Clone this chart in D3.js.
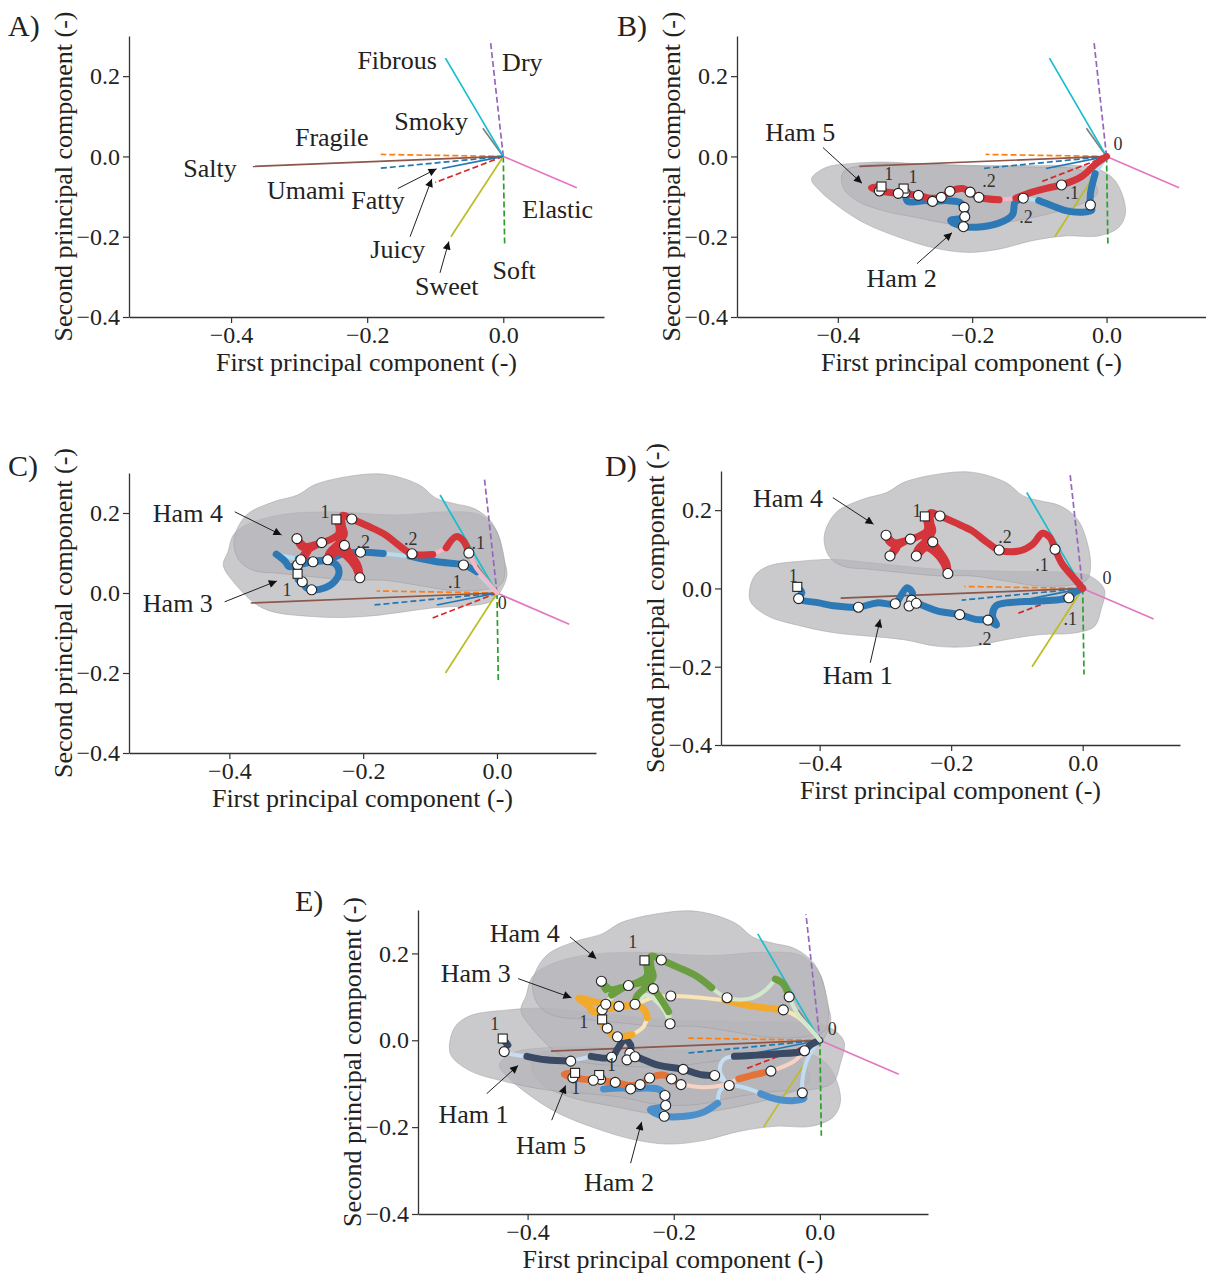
<!DOCTYPE html>
<html>
<head>
<meta charset="utf-8">
<script src="https://cdn.jsdelivr.net/npm/d3@7"></script>
<style>
  body { margin: 0; background: #fff; }
  svg { font-family: "Liberation Serif", "Times New Roman", serif; }
</style>
</head>
<body>
<svg id="fig" width="1206" height="1278"></svg>
<script>
// ---------- data ----------
const xTicks = [-0.4, -0.2, 0.0];
const yTicks = [-0.4, -0.2, 0.0, 0.2];

// loadings of the sensory attributes (PC1, PC2)
const attrNames = ["Umami", "Fragile", "Soft", "Juicy", "Dry", "Salty", "Elastic", "Smoky", "Sweet", "Fibrous", "Fatty"];
const attrPC1 = [-0.184, -0.180, 0.002, -0.100, -0.019, -0.368, 0.108, -0.030, -0.077, -0.085, -0.090];
const attrPC2 = [-0.030, 0.005, -0.220, -0.065, 0.290, -0.025, -0.078, 0.070, -0.200, 0.245, -0.030];

const hamNames = ["Ham 1", "Ham 2", "Ham 3", "Ham 4", "Ham 5"];

// trajectories (PC1, PC2), first point = start (square), last = origin
const ham1Path = [[-0.434,0.004],[-0.427,-0.011],[-0.432,-0.026],[-0.401,-0.037],[-0.375,-0.045],[-0.341,-0.048],
  [-0.313,-0.037],[-0.285,-0.039],[-0.277,-0.020],[-0.267,0.002],[-0.259,-0.011],[-0.260,-0.030],[-0.264,-0.045],
  [-0.253,-0.038],[-0.241,-0.045],[-0.220,-0.058],[-0.187,-0.067],[-0.163,-0.079],[-0.144,-0.081],[-0.131,-0.093],
  [-0.137,-0.071],[-0.132,-0.045],[-0.117,-0.037],[-0.065,-0.032],[-0.021,-0.024],[-0.013,-0.011],[0,0]];
const ham1Dots = [2, 5, 7, 11, 12, 13, 16, 18, 24];

const ham2Path = [[-0.302,-0.080],[-0.300,-0.090],[-0.296,-0.112],[-0.269,-0.110],[-0.259,-0.112],[-0.239,-0.110],
  [-0.219,-0.114],[-0.212,-0.127],[-0.211,-0.150],[-0.232,-0.160],[-0.213,-0.175],[-0.185,-0.175],[-0.160,-0.166],
  [-0.140,-0.145],[-0.136,-0.114],[-0.124,-0.104],[-0.101,-0.110],[-0.081,-0.123],[-0.061,-0.135],[-0.037,-0.139],
  [-0.022,-0.134],[-0.024,-0.121],[-0.024,-0.093],[-0.017,-0.043],[0,0]];
const ham2Dots = [1, 4, 7, 8, 10, 15, 21];

const ham3Path = [[-0.298,0.048],[-0.297,0.033],[-0.291,0.028],[-0.285,0.013],[-0.277,0.008],[-0.257,0.013],
  [-0.242,0.030],[-0.236,0.052],[-0.241,0.072],[-0.255,0.080],[-0.275,0.078],[-0.298,0.070],[-0.311,0.066],
  [-0.316,0.078],[-0.330,0.097],[-0.312,0.090],[-0.297,0.085],[-0.275,0.080],[-0.250,0.085],[-0.230,0.098],
  [-0.204,0.102],[-0.170,0.099],[-0.130,0.092],[-0.090,0.078],[-0.050,0.070],[-0.030,0.053],[0,0]];
const ham3Dots = [2, 4, 10, 11, 20, 24];

const ham4Path = [[-0.240,0.184],[-0.236,0.164],[-0.237,0.147],[-0.251,0.132],[-0.272,0.121],[-0.287,0.117],
  [-0.299,0.136],[-0.293,0.117],[-0.282,0.107],[-0.293,0.083],[-0.285,0.104],[-0.262,0.126],[-0.236,0.134],
  [-0.228,0.119],[-0.218,0.096],[-0.207,0.066],[-0.205,0.038],[-0.212,0.066],[-0.225,0.092],[-0.238,0.104],
  [-0.253,0.083],[-0.251,0.100],[-0.236,0.126],[-0.228,0.147],[-0.231,0.168],[-0.231,0.194],[-0.217,0.185],
  [-0.194,0.168],[-0.168,0.147],[-0.148,0.121],[-0.127,0.098],[-0.096,0.096],[-0.076,0.113],[-0.061,0.141],
  [-0.050,0.130],[-0.042,0.100],[-0.031,0.062],[-0.016,0.032],[0,0]];
const ham4Dots = [6, 9, 11, 13, 16, 20, 26, 30, 35];

const ham5Path = [[-0.335,-0.075],[-0.350,-0.078],[-0.338,-0.086],[-0.310,-0.092],[-0.280,-0.097],[-0.262,-0.104],
  [-0.246,-0.102],[-0.233,-0.087],[-0.214,-0.080],[-0.203,-0.089],[-0.190,-0.102],[-0.160,-0.108],[-0.135,-0.104],
  [-0.111,-0.089],[-0.086,-0.078],[-0.067,-0.071],[-0.037,-0.050],[-0.017,-0.020],[0,0]];
const ham5Dots = [2, 3, 4, 6, 7, 9, 10, 15];

// spread of each ham (outline of the shaded cloud)
const ham1Cloud = [[-0.507,-0.011],[-0.499,0.032],[-0.478,0.057],[-0.426,0.070],[-0.375,0.074],[-0.324,0.066],
  [-0.220,0.049],[-0.117,0.044],[-0.013,0.040],[0.012,0.031],[0.033,-0.003],[0.028,-0.054],[0.018,-0.097],
  [-0.013,-0.114],[-0.065,-0.118],[-0.117,-0.131],[-0.169,-0.148],[-0.220,-0.148],[-0.272,-0.131],[-0.324,-0.122],
  [-0.375,-0.114],[-0.426,-0.097],[-0.478,-0.071],[-0.504,-0.037]];
const ham2Cloud = [[-0.439,-0.056],[-0.417,-0.027],[-0.382,-0.018],[-0.333,-0.014],[-0.283,-0.018],[-0.185,-0.023],
  [-0.111,-0.023],[-0.022,-0.027],[0.008,-0.052],[0.023,-0.093],[0.028,-0.143],[0.018,-0.177],[-0.012,-0.198],
  [-0.061,-0.198],[-0.111,-0.210],[-0.160,-0.231],[-0.209,-0.239],[-0.259,-0.227],[-0.308,-0.202],[-0.358,-0.168],
  [-0.397,-0.127],[-0.427,-0.085]];
const ham3Cloud = [[-0.409,0.070],[-0.402,0.103],[-0.394,0.145],[-0.375,0.170],[-0.325,0.195],[-0.250,0.203],
  [-0.150,0.195],[-0.075,0.203],[-0.025,0.195],[0.000,0.153],[0.010,0.087],[0.015,0.045],[0.005,0.003],
  [-0.010,-0.022],[-0.100,-0.038],[-0.200,-0.059],[-0.275,-0.059],[-0.350,-0.038],[-0.394,0.028]];
const ham4Cloud = [[-0.393,0.134],[-0.375,0.194],[-0.334,0.228],[-0.298,0.245],[-0.272,0.271],[-0.220,0.292],
  [-0.169,0.297],[-0.117,0.271],[-0.091,0.237],[-0.065,0.224],[-0.034,0.211],[-0.008,0.177],[0.007,0.117],
  [0.012,0.057],[0.007,0.023],[-0.013,0.010],[-0.065,0.006],[-0.117,0.019],[-0.169,0.032],[-0.220,0.032],
  [-0.272,0.040],[-0.324,0.049],[-0.365,0.057],[-0.386,0.083]];
const ham5Cloud = [[-0.392,-0.039],[-0.367,-0.023],[-0.308,-0.018],[-0.209,-0.023],[-0.111,-0.027],[-0.037,-0.035],
  [-0.017,-0.068],[-0.014,-0.093],[-0.037,-0.118],[-0.086,-0.143],[-0.135,-0.160],[-0.185,-0.173],[-0.234,-0.168],
  [-0.283,-0.152],[-0.333,-0.135],[-0.372,-0.110],[-0.392,-0.077]];

const hams = {
  1: {path: ham1Path, dots: ham1Dots, cloud: ham1Cloud},
  2: {path: ham2Path, dots: ham2Dots, cloud: ham2Cloud},
  3: {path: ham3Path, dots: ham3Dots, cloud: ham3Cloud},
  4: {path: ham4Path, dots: ham4Dots, cloud: ham4Cloud},
  5: {path: ham5Path, dots: ham5Dots, cloud: ham5Cloud}
};

// ---------- styles ----------
const tab10 = ["#1f77b4","#ff7f0e","#2ca02c","#d62728","#9467bd","#8c564b","#e377c2","#7f7f7f","#bcbd22","#17becf","#1f77b4"];
const RED = {main: "#d3353b", light: "#f6b8c6"};
const BLUE = {main: "#2c79b5", light: "#b3def0"};
const hamColE = {
  1: {main: "#3a4a64", light: "#c8def0"},
  2: {main: "#4b8fcb", light: "#c0ddf2"},
  3: {main: "#f3aa2c", light: "#fbe4b6"},
  4: {main: "#6b9e40", light: "#d3e8cb"},
  5: {main: "#e4733a", light: "#f8d2c2"}
};

// ---------- layout ----------
const panels = [
  {tag: "A)", tagPos: [8, 36], box: {l: 129, r: 604, t: 36, b: 317}, hams: [],
   texts: [["Fibrous",-0.156,0.238],["Dry",0.028,0.235],["Smoky",-0.106,0.088],["Fragile",-0.252,0.048],
           ["Salty",-0.431,-0.030],["Umami",-0.290,-0.085],["Fatty",-0.184,-0.110],["Elastic",0.080,-0.133],
           ["Juicy",-0.155,-0.233],["Soft",0.016,-0.285],["Sweet",-0.083,-0.325]],
   small: [],
   arrows: [[-0.155,-0.080,-0.098,-0.031],[-0.137,-0.200,-0.105,-0.056],[-0.093,-0.290,-0.080,-0.212]]},
  {tag: "B)", tagPos: [617, 36], box: {l: 737, r: 1206, t: 36, b: 317},
   hams: [{id: 2, col: BLUE, weak: [[15,16],[23,24]]}, {id: 5, col: RED, weak: [[11,12]]}],
   texts: [["Ham 5",-0.456,0.060],["Ham 2",-0.305,-0.305]],
   small: [["1",-0.324,-0.045],["1",-0.288,-0.052],[".2",-0.175,-0.062],[".1",-0.051,-0.092],[".2",-0.120,-0.150],["0",0.017,0.030]],
   arrows: [[-0.422,0.022,-0.364,-0.067],[-0.282,-0.267,-0.230,-0.190]]},
  {tag: "C)", tagPos: [8, 476], box: {l: 129, r: 596, t: 473, b: 753},
   hams: [{id: 3, col: BLUE, weak: [[14,16],[21,22],[25,26]]}, {id: 4, col: RED, weak: [[11,12],[31,32],[35,38]]}],
   texts: [["Ham 4",-0.462,0.198],["Ham 3",-0.477,-0.025]],
   small: [["1",-0.257,0.203],["1",-0.314,0.008],[".2",-0.200,0.128],[".2",-0.129,0.135],[".1",-0.028,0.125],[".1",-0.063,0.028],["0",0.008,-0.025]],
   arrows: [[-0.392,0.203,-0.322,0.145],[-0.407,-0.022,-0.329,0.030]]},
  {tag: "D)", tagPos: [605, 476], box: {l: 721, r: 1180, t: 471, b: 745},
   hams: [{id: 1, col: BLUE, weak: []}, {id: 4, col: RED, weak: []}],
   texts: [["Ham 4",-0.448,0.230],["Ham 1",-0.342,-0.222]],
   small: [["1",-0.252,0.198],[".2",-0.118,0.132],[".1",-0.062,0.061],["1",-0.440,0.031],[".1",-0.019,-0.079],[".2",-0.149,-0.130],["0",0.037,0.027]],
   arrows: [[-0.380,0.232,-0.318,0.164],[-0.323,-0.190,-0.308,-0.079]]},
  {tag: "E)", tagPos: [295, 911], box: {l: 418, r: 928, t: 910, b: 1214},
   hams: [{id: 2, col: hamColE[2], weak: [[0,2],[13,17],[21,24]]},
          {id: 5, col: hamColE[5], weak: [[10,13],[15,18]]},
          {id: 1, col: hamColE[1], weak: [[1,3],[5,6],[18,22]]},
          {id: 3, col: hamColE[3], weak: [[5,7],[17,22],[24,26]]},
          {id: 4, col: hamColE[4], weak: [[7,10],[12,13],[15,20],[29,33],[35,38]]}],
   texts: [["Ham 4",-0.404,0.246],["Ham 3",-0.471,0.154],["Ham 1",-0.474,-0.170],["Ham 5",-0.368,-0.242],["Ham 2",-0.275,-0.327]],
   small: [["1",-0.256,0.226],["1",-0.323,0.042],["1",-0.445,0.037],["1",-0.285,-0.058],["1",-0.334,-0.111],["0",0.017,0.025]],
   arrows: [[-0.342,0.238,-0.306,0.188],[-0.413,0.142,-0.340,0.098],[-0.456,-0.123,-0.413,-0.058],
            [-0.367,-0.184,-0.348,-0.104],[-0.259,-0.283,-0.244,-0.188]]}
];

// ---------- drawing ----------
const svg = d3.select("#fig");
svg.append("defs").append("marker")
  .attr("id", "arrowhead")
  .attr("viewBox", "0 0 10 10")
  .attr("refX", 10).attr("refY", 5)
  .attr("markerWidth", 11).attr("markerHeight", 8)
  .attr("markerUnits", "userSpaceOnUse")
  .attr("orient", "auto")
  .append("path").attr("d", "M0,0L10,5L0,10z").attr("fill", "#111");

function drawHam(g, x, y, h, col, weak) {
  const pts = h.path;
  const isWeak = i => weak.some(([a, b]) => i >= a && i < b);
  let runs = [], cur = {weak: isWeak(0), idx: [0]};
  for (let i = 0; i < pts.length - 1; i++) {
    const w = isWeak(i);
    if (w !== cur.weak) { runs.push(cur); cur = {weak: w, idx: [i]}; }
    cur.idx.push(i + 1);
  }
  runs.push(cur);
  const line = d3.line().x(d => x(d[0])).y(d => y(d[1])).curve(d3.curveCatmullRom.alpha(0.5));
  runs.filter(r => r.weak).forEach(r => {
    g.append("path").attr("d", line(r.idx.map(i => pts[i])))
      .attr("fill", "none").attr("stroke", col.light).attr("stroke-width", 4)
      .attr("stroke-linecap", "round").attr("stroke-linejoin", "round");
  });
  runs.filter(r => !r.weak).forEach(r => {
    g.append("path").attr("d", line(r.idx.map(i => pts[i])))
      .attr("fill", "none").attr("stroke", col.main).attr("stroke-width", 7)
      .attr("stroke-linecap", "round").attr("stroke-linejoin", "round");
  });
}

panels.forEach(p => {
  const b = p.box;
  const x = d3.scaleLinear().domain([-0.55, 0.148]).range([b.l, b.r]);
  const y = d3.scaleLinear().domain([-0.4, 0.3]).range([b.b, b.t]);
  const g = svg.append("g");

  // clouds
  const cloudLine = d3.line().x(d => x(d[0])).y(d => y(d[1])).curve(d3.curveCatmullRomClosed.alpha(0.5));
  p.hams.forEach(hm => {
    g.append("path").attr("d", cloudLine(hams[hm.id].cloud))
      .attr("fill", "#b6b6ba").attr("fill-opacity", 0.72)
      .attr("stroke", "#9a9a9e").attr("stroke-opacity", 0.6).attr("stroke-width", 0.8);
  });

  // loading vectors
  attrNames.forEach((n, i) => {
    g.append("line")
      .attr("x1", x(0)).attr("y1", y(0))
      .attr("x2", x(attrPC1[i])).attr("y2", y(attrPC2[i]))
      .attr("stroke", tab10[i]).attr("stroke-width", 1.7)
      .attr("stroke-dasharray", i < 5 ? "6,3" : null);
  });

  // trajectories
  p.hams.forEach(hm => drawHam(g, x, y, hams[hm.id], hm.col, hm.weak));

  // markers
  p.hams.forEach(hm => {
    const h = hams[hm.id];
    g.selectAll(null).data(h.dots).enter().append("circle")
      .attr("cx", i => x(h.path[i][0])).attr("cy", i => y(h.path[i][1]))
      .attr("r", 5).attr("fill", "#fff").attr("stroke", "#222").attr("stroke-width", 1.1);
    g.append("rect")
      .attr("x", x(h.path[0][0]) - 4.5).attr("y", y(h.path[0][1]) - 4.5)
      .attr("width", 9).attr("height", 9)
      .attr("fill", "#fff").attr("stroke", "#222").attr("stroke-width", 1.1);
  });

  // annotations
  p.texts.forEach(t => {
    g.append("text").attr("x", x(t[1])).attr("y", y(t[2]))
      .attr("text-anchor", "middle").attr("dominant-baseline", "central")
      .attr("font-size", 26).attr("fill", "#222").text(t[0]);
  });
  p.small.forEach(t => {
    g.append("text").attr("x", x(t[1])).attr("y", y(t[2]))
      .attr("text-anchor", "middle").attr("dominant-baseline", "central")
      .attr("font-size", 18).attr("fill", "#333").text(t[0]);
  });
  p.arrows.forEach(a => {
    g.append("line")
      .attr("x1", x(a[0])).attr("y1", y(a[1])).attr("x2", x(a[2])).attr("y2", y(a[3]))
      .attr("stroke", "#222").attr("stroke-width", 1).attr("marker-end", "url(#arrowhead)");
  });

  // axes
  const fmt = d3.format(".1f");
  const ax = g.append("g").attr("transform", `translate(0,${b.b})`)
    .call(d3.axisBottom(x).tickValues(xTicks).tickFormat(fmt).tickSize(6).tickPadding(3).tickSizeOuter(0));
  const ay = g.append("g").attr("transform", `translate(${b.l},0)`)
    .call(d3.axisLeft(y).tickValues(yTicks).tickFormat(fmt).tickSize(6).tickPadding(3).tickSizeOuter(0));
  [ax, ay].forEach(a => {
    a.select(".domain").attr("stroke", "#333").attr("stroke-width", 1.3);
    a.selectAll(".tick line").attr("stroke", "#333").attr("stroke-width", 1.2);
    a.selectAll(".tick text").attr("font-size", 24).attr("fill", "#222")
      .attr("font-family", "Liberation Serif, Times New Roman, serif");
  });

  g.append("text").attr("x", (b.l + b.r) / 2).attr("y", b.b + 54)
    .attr("text-anchor", "middle").attr("font-size", 26).attr("fill", "#222")
    .text("First principal component (-)");
  g.append("text")
    .attr("transform", `translate(${b.l - 66},${(b.t + b.b) / 2}) rotate(-90)`)
    .attr("text-anchor", "middle").attr("dominant-baseline", "central")
    .attr("font-size", 26).attr("fill", "#222")
    .text("Second principal component (-)");
  g.append("text").attr("x", p.tagPos[0]).attr("y", p.tagPos[1])
    .attr("font-size", 30).attr("fill", "#222").text(p.tag);
});
</script>
</body>
</html>
